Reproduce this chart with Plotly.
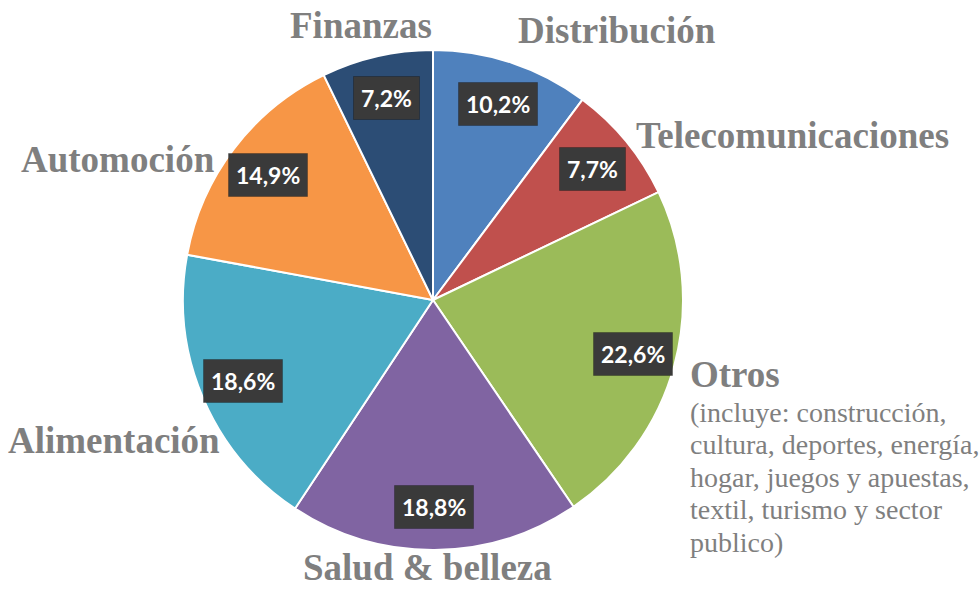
import math
import plotly.graph_objects as go

# ---- data ----
sectores = ["Distribución", "Telecomunicaciones", "Otros", "Salud & belleza",
            "Alimentación", "Automoción", "Finanzas"]
porcentajes = [10.2, 7.7, 22.6, 18.8, 18.6, 14.9, 7.2]
colores = ["#4F81BD", "#C0504D", "#9BBB59", "#8064A2", "#4BACC6", "#F79646", "#2C4D75"]
nota_otros = ["(incluye: construcción,", "cultura, deportes, energía,",
              "hogar, juegos y apuestas,", "textil, turismo y sector", "publico)"]

W, H = 980, 589
CX, CY, R = 433, 300, 250  # pie centre / radius in pixels

fig = go.Figure(go.Pie(
    labels=sectores, values=porcentajes, sort=False, direction="clockwise",
    rotation=0, marker=dict(colors=colores, line=dict(color="white", width=2)),
    textinfo="none", hoverinfo="label+percent", showlegend=False,
    domain=dict(x=[(CX - R) / W, (CX + R) / W], y=[1 - (CY + R) / H, 1 - (CY - R) / H]),
))

annotations = []


def ann(px, py, text, **kw):
    d = dict(x=px / W, y=1 - py / H, xref="paper", yref="paper", text=text,
             showarrow=False, xanchor="center", yanchor="middle")
    d.update(kw)
    annotations.append(d)


# percentage boxes placed on each slice's mid-angle
total = sum(porcentajes)
cum = 0.0
RL = 207
for v in porcentajes:
    mid = (cum + v / 2) / total * 2 * math.pi
    cum += v
    px = CX + RL * math.sin(mid)
    py = CY - RL * math.cos(mid)
    txt = f"{v:.1f}".replace(".", ",") + "%"
    ann(px, py, f"<b>{txt}</b>", bgcolor="#3A3A3A", borderpad=7,
        bordercolor="rgba(0,0,0,0.25)", borderwidth=1,
        font=dict(family="Lato", size=23, color="white"))

# category labels (layout positions in pixels)
label_pos = {
    "Distribución": (617, 31, "center"),
    "Telecomunicaciones": (792, 136, "center"),
    "Otros": (688, 374, "left"),
    "Salud & belleza": (427, 567, "center"),
    "Alimentación": (114, 440, "center"),
    "Automoción": (118, 159, "center"),
    "Finanzas": (361, 26, "center"),
}
gray = "#7F7F7F"
for name in sectores:
    x, y, al = label_pos[name]
    ann(x, y, f"<b>{name}</b>", xanchor=al,
        font=dict(family="Liberation Serif", size=37, color=gray))

for i, line in enumerate(nota_otros):
    ann(688, 412 + 32.5 * i, line, xanchor="left",
        font=dict(family="Liberation Serif", size=28, color=gray))

fig.update_layout(width=W, height=H, margin=dict(l=0, r=0, t=0, b=0),
                  paper_bgcolor="white", plot_bgcolor="white", annotations=annotations)

fig.write_html("out.html", config={"displayModeBar": False},
               post_script="document.body.style.margin='0';")
